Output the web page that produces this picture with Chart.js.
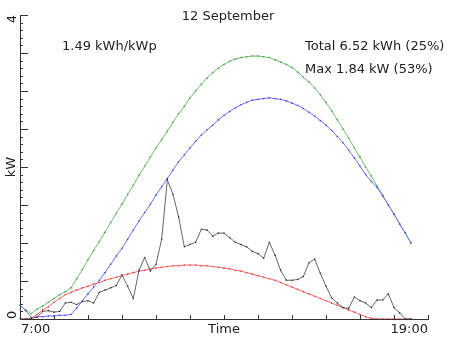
<!DOCTYPE html>
<html>
<head>
<meta charset="utf-8">
<script src="https://cdn.jsdelivr.net/npm/chart.js@4.4.1/dist/chart.umd.min.js"></script>
<style>
html, body { margin: 0; padding: 0; background: #fff; }
</style>
</head>
<body>
<canvas id="pvChart" width="452" height="339"></canvas>
<script>
// 10 minute steps, 7:00 .. 19:00
const times = ['7:00','7:10','7:20','7:30','7:40','7:50','8:00','8:10','8:20','8:30','8:40','8:50',
  '9:00','9:10','9:20','9:30','9:40','9:50','10:00','10:10','10:20','10:30','10:40','10:50',
  '11:00','11:10','11:20','11:30','11:40','11:50','12:00','12:10','12:20','12:30','12:40','12:50',
  '13:00','13:10','13:20','13:30','13:40','13:50','14:00','14:10','14:20','14:30','14:40','14:50',
  '15:00','15:10','15:20','15:30','15:40','15:50','16:00','16:10','16:20','16:30','16:40','16:50',
  '17:00','17:10','17:20','17:30','17:40','17:50','18:00','18:10','18:20','18:30','18:40','18:50','19:00'];

// measured output (kW)
const measured = [0, 0, 0.01, 0.02, 0.10, 0.11, 0.09, 0.10, 0.21, 0.22,
  0.19, 0.23, 0.24, 0.21, 0.35, 0.38, 0.41, 0.44, 0.58, 0.43,
  0.27, 0.64, 0.81, 0.63, 0.72, 1.05, 1.83, 1.64, 1.34, 0.95,
  0.98, 1.01, 1.18, 1.17, 1.09, 1.13, 1.13, 1.07, 1.01, 0.98,
  0.95, 0.89, 0.86, 0.80, 1.01, 0.84, 0.64, 0.51, 0.51, 0.52,
  0.56, 0.74, 0.79, 0.60, 0.43, 0.28, 0.21, 0.15, 0.14, 0.29,
  0.24, 0.21, 0.15, 0.25, 0.25, 0.33, 0.15, 0.08, 0, 0];

// red curve
const expected = [0, 0, 0.01, 0.06, 0.12, 0.16, 0.22, 0.27, 0.32, 0.35,
  0.38, 0.41, 0.43, 0.46, 0.48, 0.51, 0.53, 0.55, 0.57, 0.59,
  0.61, 0.63, 0.64, 0.66, 0.67, 0.68, 0.69, 0.70, 0.70, 0.71,
  0.71, 0.71, 0.70, 0.70, 0.69, 0.68, 0.67, 0.66, 0.64, 0.63,
  0.61, 0.59, 0.57, 0.55, 0.53, 0.51, 0.48, 0.45, 0.42, 0.39,
  0.36, 0.33, 0.30, 0.27, 0.24, 0.21, 0.18, 0.15, 0.12, 0.09,
  0.06, 0.03, 0.01, 0, 0, 0, 0, 0, 0, 0];

// green curve
const clearSky = [0.18, 0.12, 0.07, 0.13, 0.17, 0.22, 0.27, 0.32, 0.36, 0.41,
  0.53, 0.65, 0.78, 0.90, 1.02, 1.14, 1.27, 1.39, 1.51, 1.64,
  1.76, 1.89, 2.01, 2.13, 2.25, 2.36, 2.47, 2.59, 2.70, 2.80,
  2.91, 3.00, 3.09, 3.17, 3.24, 3.30, 3.35, 3.39, 3.42, 3.44,
  3.45, 3.46, 3.46, 3.45, 3.44, 3.41, 3.38, 3.35, 3.31, 3.25,
  3.18, 3.12, 3.04, 2.95, 2.85, 2.74, 2.62, 2.50, 2.38, 2.25,
  2.13, 2.00, 1.88, 1.75, 1.63, 1.50, 1.38, 1.25, 1.13, 1.00];

// blue curve
const clearSkyPanel = [0.18, 0.11, 0.02, 0.03, 0.03, 0.04, 0.04, 0.05, 0.05, 0.06,
  0.14, 0.24, 0.33, 0.42, 0.51, 0.61, 0.72, 0.83, 0.93, 1.05,
  1.17, 1.29, 1.40, 1.51, 1.63, 1.74, 1.85, 1.96, 2.07, 2.16,
  2.25, 2.34, 2.42, 2.49, 2.55, 2.62, 2.68, 2.73, 2.78, 2.82,
  2.85, 2.88, 2.89, 2.90, 2.91, 2.90, 2.89, 2.87, 2.84, 2.81,
  2.77, 2.72, 2.67, 2.61, 2.55, 2.48, 2.40, 2.32, 2.22, 2.12,
  2.01, 1.90, 1.81, 1.73, 1.62, 1.50, 1.38, 1.25, 1.13, 1.00];

const yTickLabels = ['0', '4'];
const FONT = '13px "DejaVu Sans"';
const INK = '#222';

// ticks inside the axes, labels and notes
const axisDecor = {
  id: 'axisDecor',
  afterDraw(chart) {
    const {ctx, chartArea: a, scales: {x, y}} = chart;
    ctx.save();
    ctx.strokeStyle = '#333';
    ctx.lineWidth = 1;
    ctx.beginPath();
    y.ticks.forEach(t => {
      const py = Math.round(y.getPixelForValue(t.value)) + 0.5;
      const major = Math.abs(t.value * 2 - Math.round(t.value * 2)) < 1e-6;
      ctx.moveTo(a.left, py);
      ctx.lineTo(a.left + (major ? 8 : 3), py);
    });
    times.forEach((t, i) => {
      if (!t.endsWith(':00')) return;
      const px = Math.round(x.getPixelForValue(i)) + 0.5;
      ctx.moveTo(px, a.bottom);
      ctx.lineTo(px, a.bottom - 4);
    });
    ctx.stroke();

    ctx.fillStyle = INK;
    ctx.font = FONT;
    ctx.textBaseline = 'middle';

    // y labels, rotated and kept inside the axis ends
    yTickLabels.forEach(lbl => {
      const py = y.getPixelForValue(Number(lbl));
      ctx.save();
      ctx.translate(12.5, py);
      ctx.rotate(-Math.PI / 2);
      ctx.textAlign = Number(lbl) === y.max ? 'right' : 'left';
      ctx.fillText(lbl, 0, 0);
      ctx.restore();
    });
    ctx.save();
    ctx.translate(12, (a.top + a.bottom) / 2);
    ctx.rotate(-Math.PI / 2);
    ctx.textAlign = 'center';
    ctx.fillText('kW', 0, 0);
    ctx.restore();

    // x labels
    const ly = 330;
    ctx.textAlign = 'left';
    ctx.fillText(times[0], x.getPixelForValue(0) + 1, ly);
    ctx.textAlign = 'right';
    ctx.fillText(times[times.length - 1], x.getPixelForValue(times.length - 1), ly);
    ctx.textAlign = 'center';
    ctx.fillText('Time', (a.left + a.right) / 2, ly);

    // title and notes
    ctx.fillText('12 September', 228, 17);
    ctx.textAlign = 'left';
    ctx.fillText('1.49 kWh/kWp', 62, 47);
    ctx.fillText('Total 6.52 kWh (25%)', 305, 47);
    ctx.fillText('Max 1.84 kW (53%)', 305, 70);
    ctx.restore();
  }
};

function lineSet(label, data, line, dot, order) {
  return {
    label: label,
    data: data,
    borderColor: line,
    borderWidth: 1,
    pointRadius: 0.8,
    pointBorderWidth: 0,
    pointBackgroundColor: dot,
    tension: 0,
    order: order
  };
}

const ctx = document.getElementById('pvChart').getContext('2d');
const pvChart = new Chart(ctx, {
  type: 'line',
  plugins: [axisDecor],
  data: {
    labels: times,
    datasets: [
      lineSet('Measured', measured, '#666666', '#333333', 1),
      lineSet('Expected', expected, '#ff6a6a', '#e83838', 2),
      lineSet('Clear sky panel', clearSkyPanel, '#7070ff', '#3a3ae0', 3),
      lineSet('Clear sky', clearSky, '#6cc06c', '#3a953a', 4)
    ]
  },
  options: {
    responsive: false,
    animation: false,
    layout: {padding: {left: 0, top: 15, right: 24, bottom: 0}},
    plugins: {
      legend: {display: false},
      tooltip: {enabled: false}
    },
    scales: {
      x: {
        type: 'category',
        offset: false,
        grid: {display: false},
        border: {display: true, color: '#333', width: 1},
        ticks: {display: false},
        afterFit: s => { s.height = 20; }
      },
      y: {
        min: 0,
        max: 4,
        grid: {display: false},
        border: {display: true, color: '#333', width: 1},
        ticks: {display: false, stepSize: 0.1},
        afterFit: s => { s.width = 20; }
      }
    }
  }
});
</script>
</body>
</html>
